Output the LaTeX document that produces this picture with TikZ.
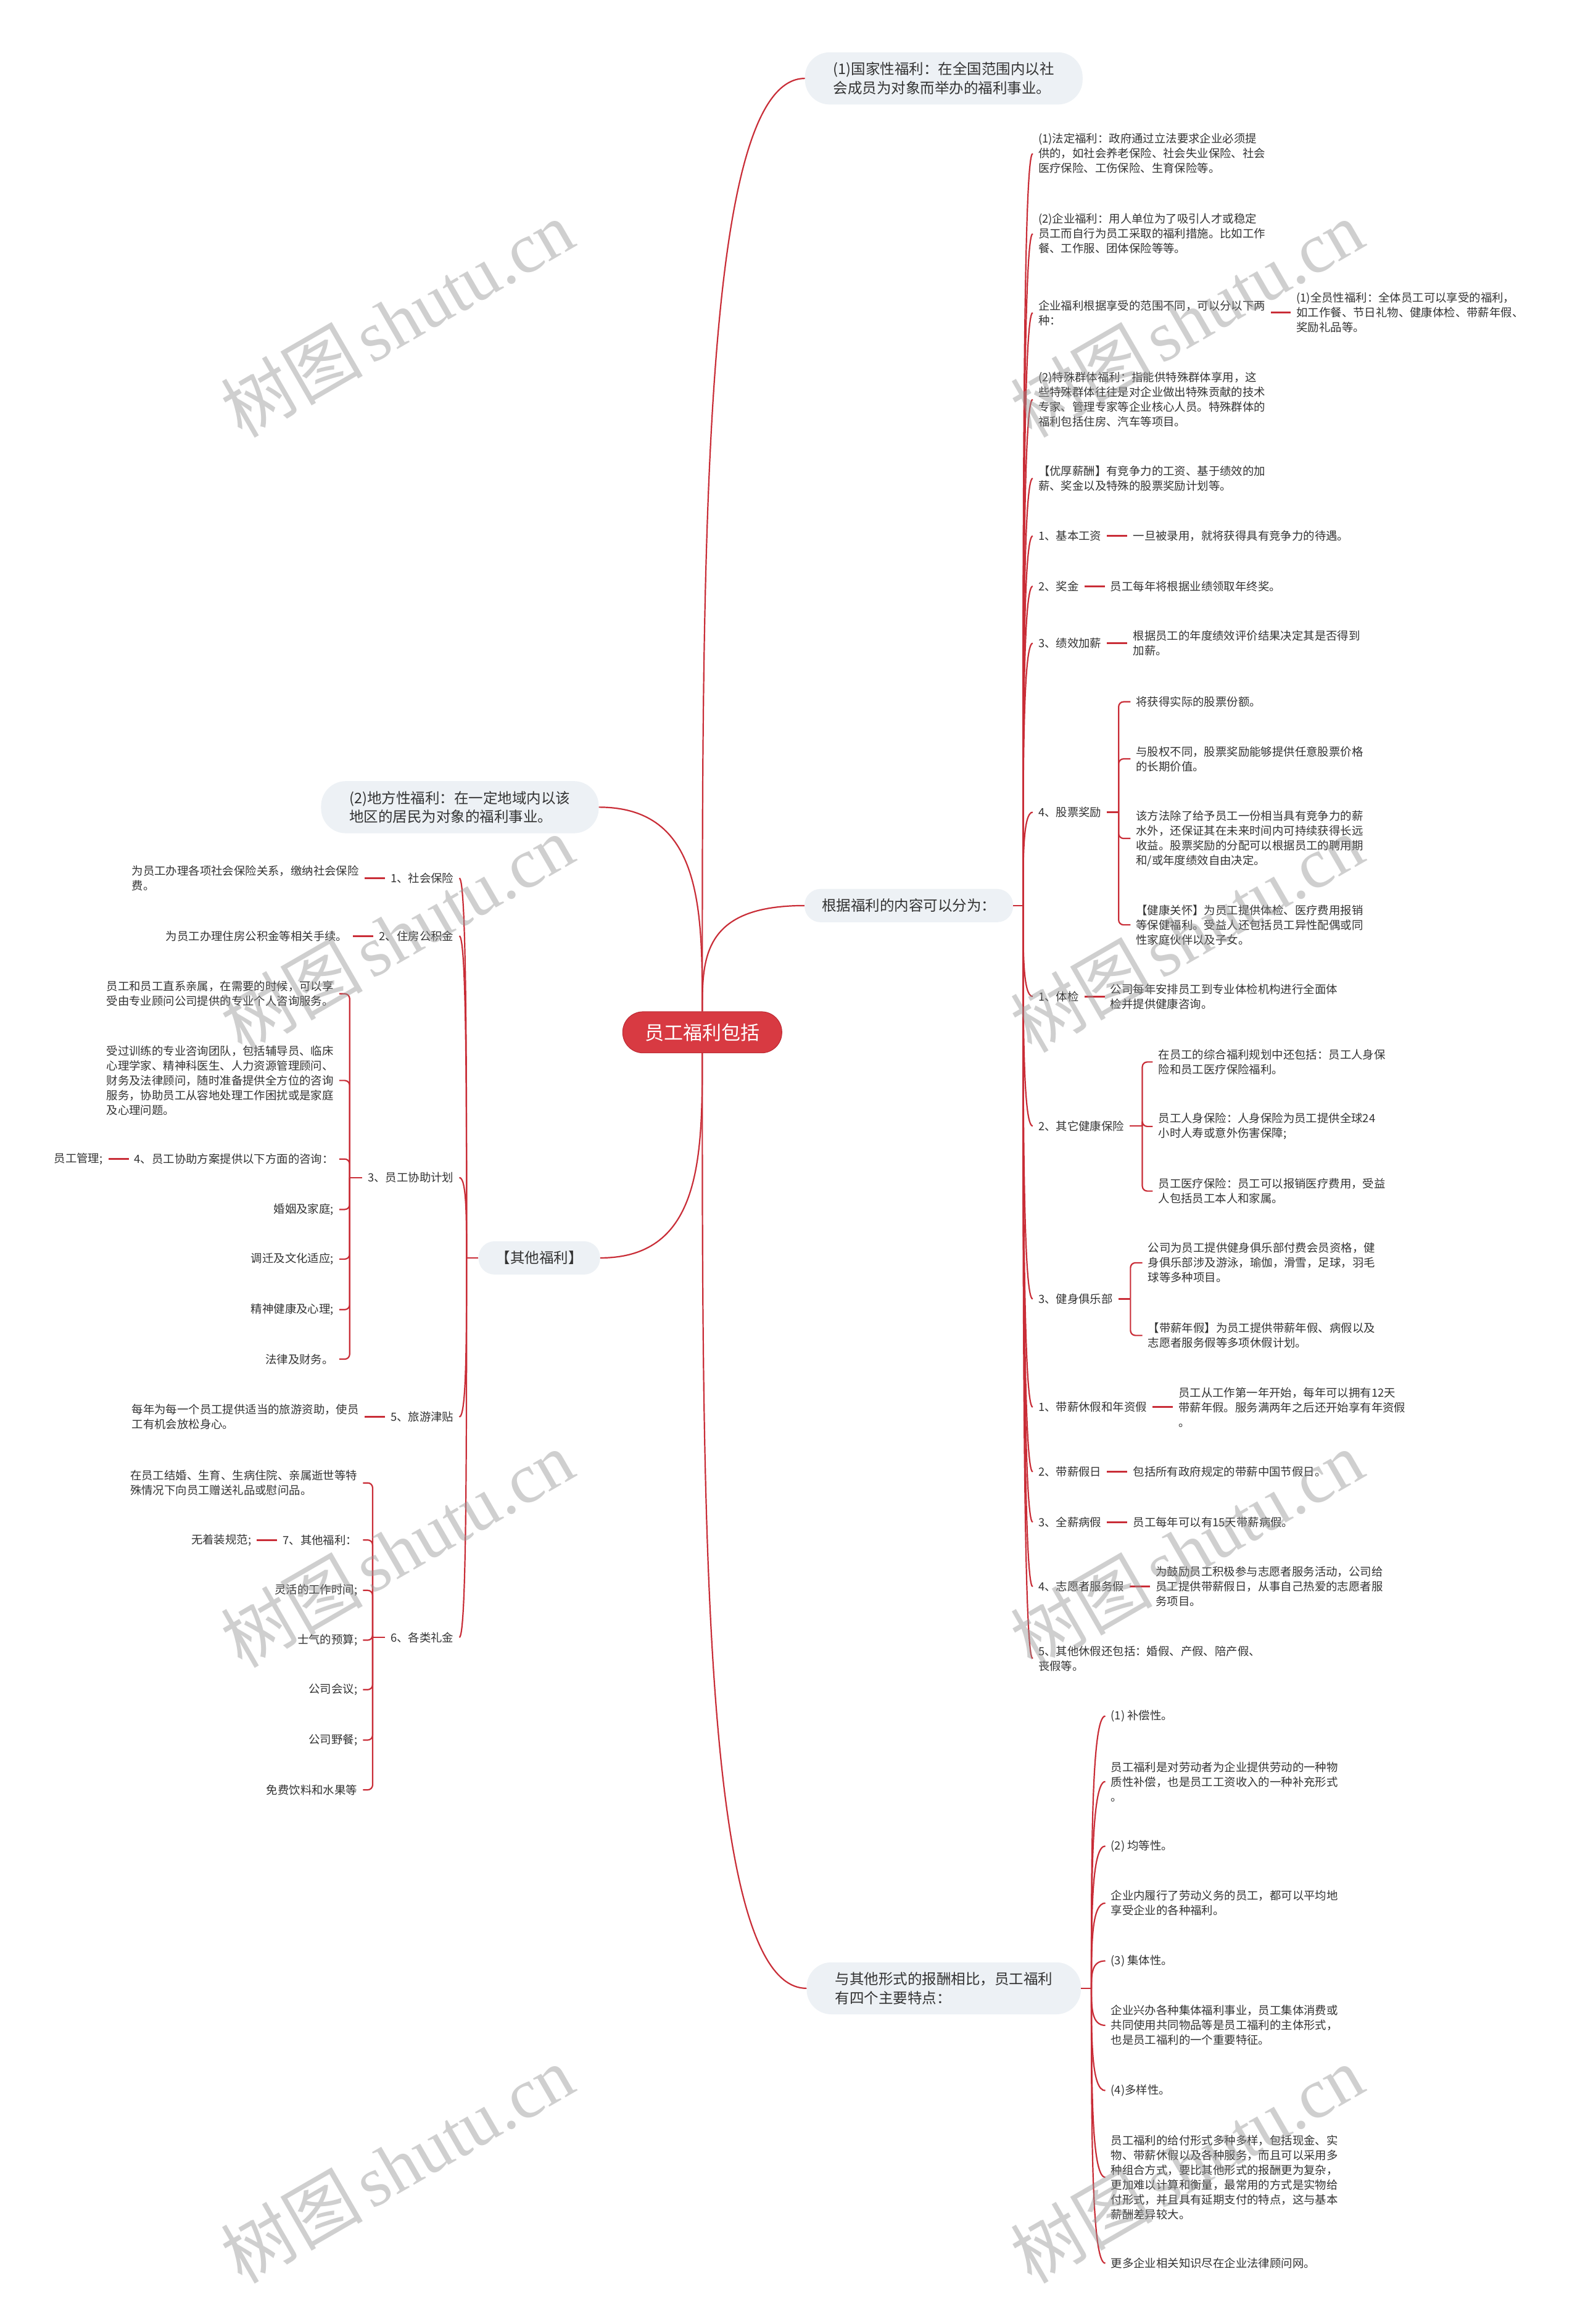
\documentclass[tikz,border=0pt]{standalone}
\usepackage{fontspec}
\setmainfont{Noto Sans CJK SC}
\newfontfamily\wmlatin{Liberation Serif}
\usepackage{tikz}
\usetikzlibrary{positioning,calc}

\definecolor{linkred}{RGB}{201,45,55}
\definecolor{rootred}{RGB}{216,58,66}
\definecolor{rootedge}{RGB}{188,40,50}
\definecolor{topicgray}{RGB}{237,241,245}
\definecolor{textdark}{RGB}{51,51,51}
\definecolor{wmgray}{RGB}{150,150,150}

\begin{document}
\begin{tikzpicture}[x=2.4015pt, y=-2.4024pt,
    root/.style={draw=rootedge, line width=1pt, fill=rootred, text=white, rounded corners=33pt, inner xsep=36pt, inner ysep=19pt, font=\fontsize{31pt}{36pt}\selectfont},
    topic/.style={fill=topicgray, text=textdark, rounded corners=26pt, inner xsep=28pt, inner ysep=16pt, align=left, font=\fontsize{23.5pt}{30.5pt}\selectfont},
    twoline/.style={rounded corners=40pt, inner xsep=46pt},
    leaf/.style={text=textdark, inner xsep=9pt, inner ysep=2pt, align=left, font=\fontsize{18.4pt}{24pt}\selectfont},
    link/.style={draw=linkred, line width=2.2pt},
    stub/.style={draw=linkred, line width=3pt},
    bracket/.style={draw=linkred, line width=2.2pt, rounded corners=8pt},
    branch/.style={link, to path={.. controls ($(\tikztostart)!0.5!(\tikztostart |- \tikztotarget)$) and (\tikztostart |- \tikztotarget) .. (\tikztotarget)}},
    wmark/.style={text=wmgray, opacity=0.45, rotate=30, font=\fontsize{115pt}{115pt}\selectfont}
]
\fill[white, use as bounding box] (0,0) rectangle (1066,1568);

% root and main topics
\node[root] (root) at (474,696.5) {员工福利包括};
\node[topic, twoline] (nation) at (637,52.9) {(1)国家性福利：在全国范围内以社\\会成员为对象而举办的福利事业。};
\node[topic] (content) at (613.4,611) {根据福利的内容可以分为：};
\node[topic, twoline] (compare) at (637,1341.5) {与其他形式的报酬相比，员工福利\\有四个主要特点：};
\node[topic, twoline] (local) at (310.4,544.6) {(2)地方性福利：在一定地域内以该\\地区的居民为对象的福利事业。};
\node[topic] (other) at (364,848.7) {【其他福利】};

\draw[branch] (root.north) to (nation.west);
\draw[branch] (root.north) to (content.west);
\draw[branch] (root.north) to (local.east);
\draw[branch] (root.south) to (other.east);
\draw[branch] (root.south) to (compare.west);

% content branch
\node[leaf, anchor=west] (legal) at (697,103.6) {(1)法定福利：政府通过立法要求企业必须提\\供的，如社会养老保险、社会失业保险、社会\\医疗保险、工伤保险、生育保险等。};
\node[leaf, anchor=west] (firm) at (697,157.7) {(2)企业福利：用人单位为了吸引人才或稳定\\员工而自行为员工采取的福利措施。比如工作\\餐、工作服、团体保险等等。};
\node[leaf, anchor=west] (range) at (697,211) {企业福利根据享受的范围不同，可以分以下两\\种：};
\node[leaf, right=32pt of range] (rangeall) {(1)全员性福利：全体员工可以享受的福利，\\如工作餐、节日礼物、健康体检、带薪年假、\\奖励礼品等。};
\node[leaf, anchor=west] (special) at (697,269.5) {(2)特殊群体福利：指能供特殊群体享用，这\\些特殊群体往往是对企业做出特殊贡献的技术\\专家、管理专家等企业核心人员。特殊群体的\\福利包括住房、汽车等项目。};
\node[leaf, anchor=west] (salary) at (697,322.7) {【优厚薪酬】有竞争力的工资、基于绩效的加\\薪、奖金以及特殊的股票奖励计划等。};
\node[leaf, anchor=west] (basepay) at (697,361.6) {1、基本工资};
\node[leaf, right=33pt of basepay] (basepaytxt) {一旦被录用，就将获得具有竞争力的待遇。};
\node[leaf, anchor=west] (bonus) at (697,395.5) {2、奖金};
\node[leaf, right=33pt of bonus] (bonustxt) {员工每年将根据业绩领取年终奖。};
\node[leaf, anchor=west] (merit) at (697,434) {3、绩效加薪};
\node[leaf, right=33pt of merit] (merittxt) {根据员工的年度绩效评价结果决定其是否得到\\加薪。};
\node[leaf, anchor=west] (stock) at (697,548) {4、股票奖励};
\node[leaf, anchor=west] (stock1) at (763,473.5) {将获得实际的股票份额。};
\node[leaf, anchor=west] (stock2) at (763,512) {与股权不同，股票奖励能够提供任意股票价格\\的长期价值。};
\node[leaf, anchor=west] (stock3) at (763,565.7) {该方法除了给予员工一份相当具有竞争力的薪\\水外，还保证其在未来时间内可持续获得长远\\收益。股票奖励的分配可以根据员工的聘用期\\和/或年度绩效自由决定。};
\node[leaf, anchor=west] (stock4) at (763,624) {【健康关怀】为员工提供体检、医疗费用报销\\等保健福利。受益人还包括员工异性配偶或同\\性家庭伙伴以及子女。};
\node[leaf, anchor=west] (checkup) at (697,672.3) {1、体检};
\node[leaf, right=33pt of checkup] (checkuptxt) {公司每年安排员工到专业体检机构进行全面体\\检并提供健康咨询。};
\node[leaf, anchor=west] (insure) at (697,759.7) {2、其它健康保险};
\node[leaf, anchor=west] (insure1) at (778,716.5) {在员工的综合福利规划中还包括：员工人身保\\险和员工医疗保险福利。};
\node[leaf, anchor=west] (insure2) at (778,760) {员工人身保险：人身保险为员工提供全球24\\小时人寿或意外伤害保障;};
\node[leaf, anchor=west] (insure3) at (778,803.6) {员工医疗保险：员工可以报销医疗费用，受益\\人包括员工本人和家属。};
\node[leaf, anchor=west] (club) at (697,876.4) {3、健身俱乐部};
\node[leaf, anchor=west] (club1) at (771,852) {公司为员工提供健身俱乐部付费会员资格，健\\身俱乐部涉及游泳，瑜伽，滑雪，足球，羽毛\\球等多种项目。};
\node[leaf, anchor=west] (club2) at (771,901) {【带薪年假】为员工提供带薪年假、病假以及\\志愿者服务假等多项休假计划。};
\node[leaf, anchor=west] (annual) at (697,949.4) {1、带薪休假和年资假};
\node[leaf, right=33pt of annual] (annualtxt) {员工从工作第一年开始，每年可以拥有12天\\带薪年假。服务满两年之后还开始享有年资假\\。};
\node[leaf, anchor=west] (holiday) at (697,993) {2、带薪假日};
\node[leaf, right=33pt of holiday] (holidaytxt) {包括所有政府规定的带薪中国节假日。};
\node[leaf, anchor=west] (sick) at (697,1027) {3、全薪病假};
\node[leaf, right=33pt of sick] (sicktxt) {员工每年可以有15天带薪病假。};
\node[leaf, anchor=west] (volunteer) at (697,1070.5) {4、志愿者服务假};
\node[leaf, right=33pt of volunteer] (volunteertxt) {为鼓励员工积极参与志愿者服务活动，公司给\\员工提供带薪假日，从事自己热爱的志愿者服\\务项目。};
\node[leaf, anchor=west] (leaveother) at (697,1119) {5、其他休假还包括：婚假、产假、陪产假、\\丧假等。};

\draw[link] (content.east) -- ++(6.6,0) coordinate (cJ);
\draw[branch] (cJ) to (legal.west);
\draw[branch] (cJ) to (firm.west);
\draw[branch] (cJ) to (range.west);
\draw[branch] (cJ) to (special.west);
\draw[branch] (cJ) to (salary.west);
\draw[branch] (cJ) to (basepay.west);
\draw[branch] (cJ) to (bonus.west);
\draw[branch] (cJ) to (merit.west);
\draw[branch] (cJ) to (stock.west);
\draw[branch] (cJ) to (checkup.west);
\draw[branch] (cJ) to (insure.west);
\draw[branch] (cJ) to (club.west);
\draw[branch] (cJ) to (annual.west);
\draw[branch] (cJ) to (holiday.west);
\draw[branch] (cJ) to (sick.west);
\draw[branch] (cJ) to (volunteer.west);
\draw[branch] (cJ) to (leaveother.west);

\draw[stub] (range.east) -- (rangeall.west);
\draw[stub] (basepay.east) -- (basepaytxt.west);
\draw[stub] (bonus.east) -- (bonustxt.west);
\draw[stub] (merit.east) -- (merittxt.west);
\draw[stub] (checkup.east) -- (checkuptxt.west);
\draw[stub] (annual.east) -- (annualtxt.west);
\draw[stub] (holiday.east) -- (holidaytxt.west);
\draw[stub] (sick.east) -- (sicktxt.west);
\draw[stub] (volunteer.east) -- (volunteertxt.west);

\coordinate (stockJ) at (755,548);
\draw[link] (stock.east) -- (stockJ);
\draw[bracket] (stockJ) |- (stock1.west);
\draw[bracket] (stockJ) |- (stock2.west);
\draw[bracket] (stockJ) |- (stock3.west);
\draw[bracket] (stockJ) |- (stock4.west);

\coordinate (insureJ) at (771,759.7);
\draw[link] (insure.east) -- (insureJ);
\draw[bracket] (insureJ) |- (insure1.west);
\draw[bracket] (insureJ) |- (insure2.west);
\draw[bracket] (insureJ) |- (insure3.west);

\coordinate (clubJ) at (763,876.4);
\draw[link] (club.east) -- (clubJ);
\draw[bracket] (clubJ) |- (club1.west);
\draw[bracket] (clubJ) |- (club2.west);

% compare branch
\node[leaf, anchor=west] (comp1) at (746,1157.8) {(1) 补偿性。};
\node[leaf, anchor=west] (comp1t) at (746,1202) {员工福利是对劳动者为企业提供劳动的一种物\\质性补偿，也是员工工资收入的一种补充形式\\。};
\node[leaf, anchor=west] (comp2) at (746,1245.5) {(2) 均等性。};
\node[leaf, anchor=west] (comp2t) at (746,1284) {企业内履行了劳动义务的员工，都可以平均地\\享受企业的各种福利。};
\node[leaf, anchor=west] (comp3) at (746,1323) {(3) 集体性。};
\node[leaf, anchor=west] (comp3t) at (746,1366.5) {企业兴办各种集体福利事业，员工集体消费或\\共同使用共同物品等是员工福利的主体形式，\\也是员工福利的一个重要特征。};
\node[leaf, anchor=west] (comp4) at (746,1410.5) {(4)多样性。};
\node[leaf, anchor=west] (comp4t) at (746,1469) {员工福利的给付形式多种多样，包括现金、实\\物、带薪休假以及各种服务，而且可以采用多\\种组合方式，要比其他形式的报酬更为复杂，\\更加难以计算和衡量，最常用的方式是实物给\\付形式，并且具有延期支付的特点，这与基本\\薪酬差异较大。};
\node[leaf, anchor=west] (comp5) at (746,1527) {更多企业相关知识尽在企业法律顾问网。};

\draw[link] (compare.east) -- ++(7,0) coordinate (mJ);
\draw[branch] (mJ) to (comp1.west);
\draw[branch] (mJ) to (comp1t.west);
\draw[branch] (mJ) to (comp2.west);
\draw[branch] (mJ) to (comp2t.west);
\draw[branch] (mJ) to (comp3.west);
\draw[branch] (mJ) to (comp3t.west);
\draw[branch] (mJ) to (comp4.west);
\draw[branch] (mJ) to (comp4t.west);
\draw[branch] (mJ) to (comp5.west);

% other branch
\node[leaf, anchor=east] (social) at (310,592.5) {1、社会保险};
\node[leaf, left=33pt of social] (socialtxt) {为员工办理各项社会保险关系，缴纳社会保险\\费。};
\node[leaf, anchor=east] (housing) at (310,631.5) {2、住房公积金};
\node[leaf, left=33pt of housing] (housingtxt) {为员工办理住房公积金等相关手续。};
\node[leaf, anchor=east] (eap) at (310,794.5) {3、员工协助计划};
\node[leaf, anchor=east] (eap1) at (229,670.5) {员工和员工直系亲属，在需要的时候，可以享\\受由专业顾问公司提供的专业个人咨询服务。};
\node[leaf, anchor=east] (eap2) at (229,729) {受过训练的专业咨询团队，包括辅导员、临床\\心理学家、精神科医生、人力资源管理顾问、\\财务及法律顾问，随时准备提供全方位的咨询\\服务，协助员工从容地处理工作困扰或是家庭\\及心理问题。};
\node[leaf, anchor=east] (eap3) at (229,782) {4、员工协助方案提供以下方面的咨询：};
\node[leaf, left=33pt of eap3] (eap3t) {员工管理;};
\node[leaf, anchor=east] (eap4) at (229,816) {婚姻及家庭;};
\node[leaf, anchor=east] (eap5) at (229,849.5) {调迁及文化适应;};
\node[leaf, anchor=east] (eap6) at (229,883.6) {精神健康及心理;};
\node[leaf, anchor=east] (eap7) at (229,917) {法律及财务。};
\node[leaf, anchor=east] (travel) at (310,956) {5、旅游津贴};
\node[leaf, left=33pt of travel] (traveltxt) {每年为每一个员工提供适当的旅游资助，使员\\工有机会放松身心。};
\node[leaf, anchor=east] (gift) at (310,1104.7) {6、各类礼金};
\node[leaf, anchor=east] (gift1) at (245,1000.5) {在员工结婚、生育、生病住院、亲属逝世等特\\殊情况下向员工赠送礼品或慰问品。};
\node[leaf, anchor=east] (gift2) at (245,1039) {7、其他福利：};
\node[leaf, left=33pt of gift2] (gift2t) {无着装规范;};
\node[leaf, anchor=east] (gift3) at (245,1073) {灵活的工作时间;};
\node[leaf, anchor=east] (gift4) at (245,1106.6) {士气的预算;};
\node[leaf, anchor=east] (gift5) at (245,1140) {公司会议;};
\node[leaf, anchor=east] (gift6) at (245,1174) {公司野餐;};
\node[leaf, anchor=east] (gift7) at (245,1207.6) {免费饮料和水果等};

\draw[link] (other.west) -- ++(-8,0) coordinate (oJ);
\draw[branch] (oJ) to (social.east);
\draw[branch] (oJ) to (housing.east);
\draw[branch] (oJ) to (eap.east);
\draw[branch] (oJ) to (travel.east);
\draw[branch] (oJ) to (gift.east);

\draw[stub] (social.west) -- (socialtxt.east);
\draw[stub] (housing.west) -- (housingtxt.east);
\draw[stub] (eap3.west) -- (eap3t.east);
\draw[stub] (travel.west) -- (traveltxt.east);
\draw[stub] (gift2.west) -- (gift2t.east);

\coordinate (eapJ) at (236,794.5);
\draw[link] (eap.west) -- (eapJ);
\draw[bracket] (eapJ) |- (eap1.east);
\draw[bracket] (eapJ) |- (eap2.east);
\draw[bracket] (eapJ) |- (eap3.east);
\draw[bracket] (eapJ) |- (eap4.east);
\draw[bracket] (eapJ) |- (eap5.east);
\draw[bracket] (eapJ) |- (eap6.east);
\draw[bracket] (eapJ) |- (eap7.east);

\coordinate (giftJ) at (251.5,1104.7);
\draw[link] (gift.west) -- (giftJ);
\draw[bracket] (giftJ) |- (gift1.east);
\draw[bracket] (giftJ) |- (gift2.east);
\draw[bracket] (giftJ) |- (gift3.east);
\draw[bracket] (giftJ) |- (gift4.east);
\draw[bracket] (giftJ) |- (gift5.east);
\draw[bracket] (giftJ) |- (gift6.east);
\draw[bracket] (giftJ) |- (gift7.east);

% watermarks
\node[wmark] (wm1) at (268,215) {树图\hspace{0.12em}{\wmlatin shutu.cn}};
\node[wmark] (wm2) at (801,215) {树图\hspace{0.12em}{\wmlatin shutu.cn}};
\node[wmark] (wm3) at (268,630) {树图\hspace{0.12em}{\wmlatin shutu.cn}};
\node[wmark] (wm4) at (801,630) {树图\hspace{0.12em}{\wmlatin shutu.cn}};
\node[wmark] (wm5) at (268,1045) {树图\hspace{0.12em}{\wmlatin shutu.cn}};
\node[wmark] (wm6) at (801,1045) {树图\hspace{0.12em}{\wmlatin shutu.cn}};
\node[wmark] (wm7) at (268,1460) {树图\hspace{0.12em}{\wmlatin shutu.cn}};
\node[wmark] (wm8) at (801,1460) {树图\hspace{0.12em}{\wmlatin shutu.cn}};
\end{tikzpicture}
\end{document}
